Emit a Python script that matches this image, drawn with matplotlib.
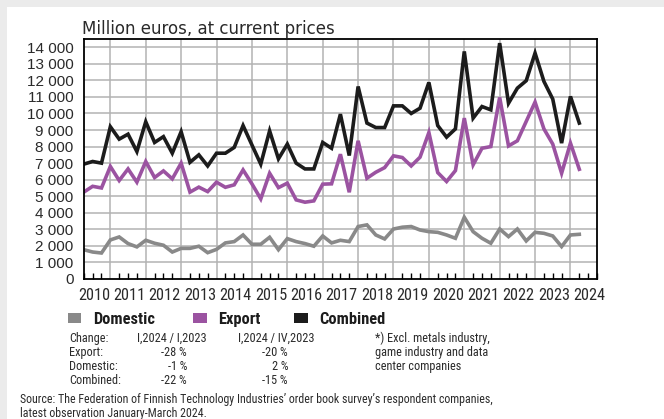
import matplotlib
matplotlib.use("Agg")
import matplotlib.pyplot as plt
from matplotlib import font_manager
from matplotlib.font_manager import FontProperties
from matplotlib.patches import Rectangle
import numpy as np
import os

# ---------------- data (million euros, quarterly 2010Q1 .. 2024Q1) ----------------
years = list(range(2010, 2025))
combined = [6940, 7100, 7000, 9200, 8450, 8750, 7700, 9500, 8250, 8600, 7600, 8900,
            7050, 7500, 6830, 7600, 7600, 7950, 9270, 8100, 6940, 8950, 7260, 8150,
            7000, 6650, 6650, 8250, 7900, 9960, 7460, 11630, 9420, 9150, 9150, 10460,
            10460, 10000, 10320, 11875, 9270, 8570, 9070, 13750, 9720, 10420, 10220, 14250,
            10620, 11530, 11980, 13650, 11940, 10870, 8210, 11030, 9420]
export = [5250, 5600, 5500, 6800, 5950, 6650, 5850, 7100, 6130, 6530, 6050, 7000,
          5250, 5550, 5280, 5850, 5540, 5690, 6590, 5750, 4840, 6390, 5520, 5790,
          4780, 4640, 4720, 5730, 5750, 7540, 5240, 8350, 6090, 6450, 6730, 7440,
          7340, 6830, 7360, 8850, 6430, 5890, 6550, 9720, 6900, 7900, 8000, 10970,
          8040, 8350, 9520, 10690, 9070, 8150, 6390, 8210, 6630]
domestic = [1770, 1630, 1570, 2360, 2540, 2140, 1940, 2340, 2160, 2040, 1630, 1850,
            1850, 1980, 1590, 1790, 2180, 2260, 2660, 2100, 2100, 2520, 1770, 2440,
            2260, 2140, 1980, 2600, 2180, 2340, 2260, 3170, 3270, 2660, 2420, 3020,
            3130, 3170, 2960, 2860, 2820, 2660, 2460, 3730, 2860, 2460, 2160, 3020,
            2560, 3020, 2300, 2820, 2760, 2600, 1960, 2660, 2700]
series_names = ["Domestic", "Export", "Combined"]
yticks = list(range(0, 14001, 1000))

title = "Million euros, at current prices"
table_rows = [
    ("Change:", "I,2024 / I,2023", "I,2024 / IV,2023"),
    ("Export:", "-28 %", "-20 %"),
    ("Domestic:", "-1 %", "2 %"),
    ("Combined:", "-22 %", "-15 %"),
]
footnote = ["*) Excl. metals industry,", "game industry and data", "center companies"]
source = ["Source: The Federation of Finnish Technology Industries\u2019 order book survey\u2019s respondent companies,",
          "latest observation January-March 2024."]

# ---------------- fonts ----------------
files = [f.fname for f in font_manager.fontManager.ttflist]

def find_file(patterns, exclude=()):
    for pat in patterns:
        for fn in sorted(files):
            b = os.path.basename(fn).lower()
            if all(p in b for p in pat) and not any(e in b for e in exclude):
                return fn
    return None

narrow_reg = find_file([("liberationsansnarrow-regular",), ("robotocondensed-regular",),
                        ("dejavusanscondensed.ttf",), ("notosans-condensed.",),
                        ("opensans_condensed-regular",), ("condensed", "regular")],
                       exclude=("bold", "italic", "oblique", "light", "semi"))
narrow_bold = find_file([("liberationsansnarrow-bold.",), ("robotocondensed-bold.",),
                         ("dejavusanscondensed-bold.",), ("notosans-condensedbold.",),
                         ("opensans_condensed-bold.",), ("condensed", "bold")],
                        exclude=("italic", "oblique", "semi", "extra"))
if narrow_reg:
    FP_N = lambda s: FontProperties(fname=narrow_reg, size=s)
    NSCALE = 1.0
else:
    FP_N = lambda s: FontProperties(family="Liberation Sans", size=s)
    NSCALE = 0.84
if narrow_bold:
    FP_NB = lambda s: FontProperties(fname=narrow_bold, size=s)
    BSCALE = 1.0
else:
    FP_NB = lambda s: FontProperties(family="Liberation Sans", weight="bold", size=s)
    BSCALE = 0.86

ARIAL = "Liberation Sans"
TITLEF = "DejaVu Sans"

C_BLACK = "#1c1c1c"
C_PURPLE = "#9b53a1"
C_GRAY = "#898989"
C_GRID = "#b3b3b3"
C_TEXT = "#2a2a2a"

W, H = 664, 419
fig = plt.figure(figsize=(W / 100, H / 100), dpi=100, facecolor="white")

def fx(px):
    return px / W

def fy(py):
    return 1 - py / H

# light gray frame strips (top and left)
fig.patches.append(Rectangle((0, fy(7)), 1, 7 / H, transform=fig.transFigure,
                             facecolor="#ebebeb", edgecolor="none"))
fig.patches.append(Rectangle((0, 0), fx(7), 1, transform=fig.transFigure,
                             facecolor="#ebebeb", edgecolor="none"))

L, R, T, B = 83.8, 597, 39, 279
ax = fig.add_axes([fx(L), fy(B), fx(R - L), (B - T) / H])
ax.set_facecolor("white")
ax.set_zorder(3)

x = np.arange(len(combined))
ax.plot(x, domestic, color=C_GRAY, lw=2.6, solid_joinstyle="miter", zorder=3)
ax.plot(x, export, color=C_PURPLE, lw=2.6, solid_joinstyle="miter", zorder=4)
ax.plot(x, combined, color=C_BLACK, lw=2.6, solid_joinstyle="miter", zorder=5)

ax.set_xlim(0, 58)
ax.set_ylim(0, 14500)

for v in yticks[1:]:
    ax.axhline(v, color=C_GRID, lw=1.1, zorder=1)
for k in range(len(years) - 1):
    ax.axvline(3 + 4 * k, color=C_GRID, lw=1.1, zorder=1)

ax.set_yticks(yticks)
ax.set_yticklabels([f"{v:,}".replace(",", " ") for v in yticks],
                   fontfamily=ARIAL, fontsize=11, color=C_TEXT)
ax.tick_params(axis="y", length=0, pad=7.5)

ax.set_xticks([1.15 + 4 * (y - 2010) for y in years])
ax.set_xticklabels([str(y) for y in years], color=C_TEXT)
for lab in ax.get_xticklabels():
    lab.set_fontproperties(FP_N(11.7 * NSCALE))
ax.tick_params(axis="x", which="major", length=0, pad=6.5)
minor = [i for i in range(0, 59) if (i - 3) % 4 != 0]
ax.set_xticks(minor, minor=True)
ax.tick_params(axis="x", which="minor", direction="in", length=4, width=1, color="black")

for s in ax.spines.values():
    s.set_color("black")
    s.set_linewidth(1.3)
    s.set_zorder(6)

fig.text(fx(82), fy(34), title, fontfamily=TITLEF, fontsize=12, color=C_TEXT, va="baseline")

leg_colors = [C_GRAY, C_PURPLE, C_BLACK]
sq_x = [67.7, 193.3, 294.0]
tx_x = [93.0, 218.5, 319.5]
for name, col, sx, tx in zip(series_names, leg_colors, sq_x, tx_x):
    fig.patches.append(Rectangle((fx(sx), fy(323.3)), fx(13.5), 10.6 / H,
                                 transform=fig.transFigure, facecolor=col, edgecolor="none"))
    fig.text(fx(tx), fy(323.5), name, fontproperties=FP_NB(11.8 * BSCALE),
             color=C_BLACK, va="baseline")

row_y = [338.3, 352.3, 366.3, 380.3]
TS = 8.8 * NSCALE
for r, (a, b, c) in enumerate(table_rows):
    yy = fy(row_y[r])
    fig.text(fx(69), yy, a, fontproperties=FP_N(TS), color=C_TEXT, va="center")
    if r == 0:
        fig.text(fx(171.5), yy, b, fontproperties=FP_N(TS), color=C_TEXT, va="center", ha="center")
        fig.text(fx(276), yy, c, fontproperties=FP_N(TS), color=C_TEXT, va="center", ha="center")
    else:
        fig.text(fx(187), yy, b, fontproperties=FP_N(TS), color=C_TEXT, va="center", ha="right")
        fig.text(fx(288), yy, c, fontproperties=FP_N(TS), color=C_TEXT, va="center", ha="right")
for r, line in enumerate(footnote):
    fig.text(fx(375), fy(row_y[r]), line, fontproperties=FP_N(TS), color=C_TEXT, va="center")

SS = 8.55 * NSCALE
fig.text(fx(20.5), fy(399), source[0], fontproperties=FP_N(SS), color=C_TEXT, va="center")
fig.text(fx(20.5), fy(413), source[1], fontproperties=FP_N(SS), color=C_TEXT, va="center")

fig.savefig("out.png", dpi=100, facecolor=fig.get_facecolor())
